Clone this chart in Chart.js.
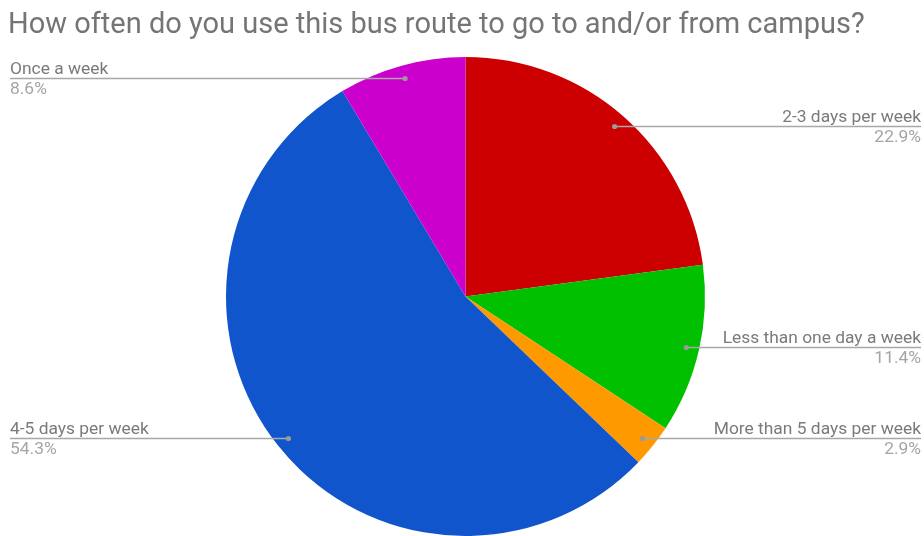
<!DOCTYPE html>
<html>
<head>
<meta charset="utf-8">
<title>Bus route usage</title>
<script src="https://cdn.jsdelivr.net/npm/chart.js@4.4.1/dist/chart.umd.min.js"></script>
<style>
  html, body { margin: 0; padding: 0; background: #ffffff; }
  #wrap { width: 924px; height: 536px; position: relative; }
</style>
</head>
<body>
<div id="wrap"><canvas id="chart"></canvas></div>
<script>
const chartTitle = 'How often do you use this bus route to go to and/or from campus?';
const categories = [
  '2-3 days per week',
  'Less than one day a week',
  'More than 5 days per week',
  '4-5 days per week',
  'Once a week'
];
const shares = [22.9, 11.4, 2.9, 54.3, 8.6];
const shareLabels = ['22.9%', '11.4%', '2.9%', '54.3%', '8.6%'];
const sliceColors = ['#cc0000', '#00c000', '#ff9900', '#1155cc', '#cc00cc'];

const FONT = 'Roboto, "Liberation Sans", Arial, sans-serif';

// Title plus leader-line labels drawn next to each slice
const calloutPlugin = {
  id: 'callouts',
  afterDraw(chart) {
    const ctx = chart.ctx;
    const W = chart.width;
    ctx.save();

    ctx.fillStyle = '#757575';
    ctx.font = '29px ' + FONT;
    ctx.textAlign = 'left';
    ctx.textBaseline = 'alphabetic';
    ctx.fillText(chartTitle, 8, 33);

    const meta = chart.getDatasetMeta(0);
    meta.data.forEach((arc, i) => {
      const p = arc.getProps(['x', 'y', 'startAngle', 'endAngle', 'outerRadius'], true);
      const mid = (p.startAngle + p.endAngle) / 2;
      const r = p.outerRadius - 13;
      const dx = p.x + Math.cos(mid) * r;
      const dy = Math.round(p.y + Math.sin(mid) * r) + 0.5;
      const rightSide = Math.cos(mid) > 0;
      const edge = rightSide ? W - 3 : 10;

      ctx.strokeStyle = '#a8a8a8';
      ctx.lineWidth = 1.5;
      ctx.beginPath();
      ctx.moveTo(dx, dy);
      ctx.lineTo(edge, dy);
      ctx.stroke();

      ctx.fillStyle = '#9a9a9a';
      ctx.beginPath();
      ctx.arc(dx, dy, 2.6, 0, Math.PI * 2);
      ctx.fill();

      ctx.textAlign = rightSide ? 'right' : 'left';
      ctx.font = '17.4px ' + FONT;
      ctx.fillStyle = '#7a7a7a';
      ctx.textBaseline = 'alphabetic';
      ctx.fillText(categories[i], edge, dy - 5);
      ctx.fillStyle = '#a5a5a5';
      ctx.textBaseline = 'top';
      ctx.fillText(shareLabels[i], edge, dy + 2);
    });
    ctx.restore();
  }
};

new Chart(document.getElementById('chart'), {
  type: 'pie',
  data: {
    labels: categories,
    datasets: [{
      data: shares,
      backgroundColor: sliceColors,
      borderWidth: 0,
      hoverOffset: 0
    }]
  },
  options: {
    responsive: true,
    maintainAspectRatio: false,
    animation: false,
    layout: { padding: { top: 57, bottom: -1, left: 7, right: 0 } },
    plugins: {
      legend: { display: false },
      title: { display: false },
      tooltip: { enabled: false }
    }
  },
  plugins: [calloutPlugin]
});
</script>
</body>
</html>
